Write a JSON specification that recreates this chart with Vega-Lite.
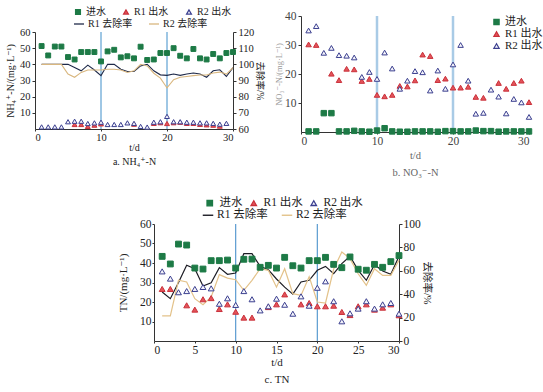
{
"$schema": "https://vega.github.io/schema/vega-lite/v6.json",
"padding": {"left": 5, "top": 7, "right": 0, "bottom": 0},
"background": "white",
"datasets": {
"a": [
{"d":1,"进水":51.3,"R2 出水":1.3,"R1 去除率":100,"R2 去除率":100},
{"d":2,"进水":45.5,"R2 出水":1.3,"R1 去除率":100,"R2 去除率":100},
{"d":3,"进水":51,"R2 出水":1.3,"R1 去除率":100,"R2 去除率":100},
{"d":4,"进水":51,"R2 出水":1.3,"R1 去除率":100,"R2 去除率":100},
{"d":5,"进水":44.5,"R2 出水":4.5,"R1 去除率":100,"R2 去除率":94},
{"d":6,"进水":43,"R1 出水":2.8,"R2 出水":4.8,"R1 去除率":98,"R2 去除率":92},
{"d":7,"进水":47.6,"R1 出水":2.8,"R2 出水":4.8,"R1 去除率":96,"R2 去除率":95},
{"d":8,"进水":47.6,"R1 出水":1.6,"R2 出水":3.4,"R1 去除率":99.5,"R2 去除率":96.5},
{"d":9,"进水":47.6,"R1 出水":2.4,"R2 出水":3.8,"R1 去除率":96.5,"R2 去除率":96.5},
{"d":10,"进水":41.8,"R1 出水":3.2,"R2 出水":4.2,"R1 去除率":93,"R2 去除率":96.5},
{"d":11,"进水":48,"R2 出水":2.8,"R1 去除率":100,"R2 去除率":97},
{"d":12,"进水":49,"R2 出水":2.8,"R1 去除率":100,"R2 去除率":97},
{"d":13,"进水":44.3,"R2 出水":2.8,"R1 去除率":97,"R2 去除率":96.5},
{"d":14,"进水":45,"R2 出水":3.8,"R1 去除率":95.6,"R2 去除率":95},
{"d":15,"进水":43.7,"R1 出水":3,"R2 出水":3.5,"R1 去除率":95.6,"R2 去除率":96},
{"d":16,"进水":50.9,"R2 出水":1.6,"R1 去除率":99,"R2 去除率":100},
{"d":17,"进水":42.7,"R2 出水":1.2,"R1 去除率":100,"R2 去除率":99},
{"d":18,"进水":43,"R1 出水":3.5,"R2 出水":4.2,"R1 去除率":96,"R2 去除率":94.5},
{"d":19,"进水":47,"R1 出水":3.9,"R2 出水":4.5,"R1 去除率":93.5,"R2 去除率":91.5},
{"d":20,"进水":47,"R1 出水":3.4,"R2 出水":7.8,"R1 去除率":93.2,"R2 去除率":85.4},
{"d":21,"进水":50,"R1 出水":3.9,"R2 出水":4.5,"R1 去除率":94,"R2 去除率":90.5},
{"d":22,"进水":45.3,"R1 出水":4.2,"R2 出水":4.5,"R1 去除率":93.2,"R2 去除率":92},
{"d":23,"进水":43.7,"R1 出水":3.5,"R2 出水":4.2,"R1 去除率":94,"R2 去除率":92.5},
{"d":24,"进水":49.5,"R1 出水":3.5,"R2 出水":4.2,"R1 去除率":94.6,"R2 去除率":93},
{"d":25,"进水":43.7,"R1 出水":2.9,"R2 出水":3.8,"R1 去除率":94,"R2 去除率":93.4},
{"d":26,"进水":43,"R1 出水":2.6,"R2 出水":3.8,"R1 去除率":92,"R2 去除率":93.4},
{"d":27,"进水":46.4,"R1 出水":2.4,"R2 出水":3.5,"R1 去除率":96,"R2 去除率":94.6},
{"d":28,"进水":43.7,"R1 出水":1.8,"R2 出水":3.0,"R1 去除率":96.6,"R2 去除率":95.2},
{"d":29,"进水":47,"R2 出水":3.5,"R1 去除率":92.5,"R2 去除率":94},
{"d":30,"进水":47.6,"R1 去除率":98,"R2 去除率":98}
],
"b": [
{"d":1,"进水":0.2,"R1 出水":30.2,"R2 出水":35.0},
{"d":2,"进水":0.2,"R1 出水":30.0,"R2 出水":36.5},
{"d":3,"进水":6.5,"R2 出水":27.3},
{"d":4,"进水":6.5,"R1 出水":20.1,"R2 出水":29.0},
{"d":5,"进水":0.2,"R1 出水":17.9,"R2 出水":26.5},
{"d":6,"进水":0.2,"R1 出水":21.8,"R2 出水":26.3},
{"d":7,"进水":0.4,"R1 出水":21.6,"R2 出水":25.7},
{"d":8,"进水":0.2,"R1 出水":17.6,"R2 出水":19.0},
{"d":9,"进水":0.1,"R1 出水":18.3,"R2 出水":20.7},
{"d":10,"进水":0.5,"R1 出水":12.8,"R2 出水":18.3},
{"d":11,"进水":1.3,"R1 出水":12.3,"R2 出水":27.4},
{"d":12,"进水":0.2,"R1 出水":12.8,"R2 出水":21.9},
{"d":13,"进水":0.1,"R1 出水":15.9,"R2 出水":14.9},
{"d":14,"进水":0.1,"R1 出水":15.7,"R2 出水":17.7},
{"d":15,"进水":0.2,"R1 出水":17.8,"R2 出水":21.0},
{"d":16,"进水":0.2,"R1 出水":26.7,"R2 出水":20.6},
{"d":17,"进水":0.2,"R1 出水":26.2,"R2 出水":14.3},
{"d":18,"进水":0.1,"R1 出水":17.9,"R2 出水":21.2},
{"d":19,"进水":0.3,"R1 出水":18.4,"R2 出水":14.9},
{"d":20,"进水":0.3,"R1 出水":15.3,"R2 出水":23.3},
{"d":21,"进水":0.2,"R1 出水":15.3,"R2 出水":30.0},
{"d":22,"进水":0.2,"R1 出水":15.6,"R2 出水":17.7},
{"d":23,"进水":0.5,"R1 出水":12.1,"R2 出水":6.3},
{"d":24,"进水":0.3,"R1 出水":11.8,"R2 出水":6.6},
{"d":25,"进水":0.3,"R2 出水":14.6},
{"d":26,"进水":0.1,"R1 出水":16.9,"R2 出水":12.2},
{"d":27,"进水":0.2,"R1 出水":14.9,"R2 出水":6.4},
{"d":28,"进水":0.2,"R1 出水":16.9,"R2 出水":11.4},
{"d":29,"进水":0.2,"R1 出水":17.7,"R2 出水":10.2},
{"d":30,"进水":0.2,"R1 出水":10.3,"R2 出水":5.2}
],
"c": [
{"d":1,"进水":43.4,"R1 出水":26.7,"R2 出水":35.7,"R1 去除率":41.9,"R2 去除率":21.4},
{"d":2,"进水":39.5,"R1 出水":26.7,"R2 出水":32.0,"R1 去除率":36.2,"R2 去除率":21.4},
{"d":3,"进水":49.7,"R2 出水":25.0,"R1 去除率":50,"R2 去除率":51.9},
{"d":4,"进水":49.2,"R1 出水":18.3,"R2 出水":25.6,"R1 去除率":64.7,"R2 去除率":50.4},
{"d":5,"进水":37.4,"R1 出水":16.1,"R2 出水":26.7,"R1 去除率":61.8,"R2 去除率":36.2},
{"d":6,"进水":36.9,"R1 出水":21.4,"R2 出水":27.7,"R1 去除率":47.0,"R2 去除率":31.1},
{"d":7,"进水":41.2,"R1 出水":22.0,"R2 出水":27.0,"R1 去除率":49.8,"R2 去除率":37.6},
{"d":8,"进水":41.2,"R1 出水":16.4,"R2 出水":19.1,"R1 去除率":62.7,"R2 去除率":56.7},
{"d":9,"进水":41.5,"R1 出水":18.8,"R2 出水":21.9,"R1 去除率":57.0,"R2 去除率":53.8},
{"d":10,"进水":37.4,"R1 出水":15.0,"R2 出水":18.5,"R1 去除率":58.1,"R2 去除率":52.4},
{"d":11,"进水":41.9,"R1 出水":12.0,"R2 出水":25.6,"R1 去除率":74.6,"R2 去除率":43.3},
{"d":12,"进水":42.0,"R1 出水":12.0,"R2 出水":21.4,"R1 去除率":74.6,"R2 去除率":51.9},
{"d":13,"进水":37.8,"R2 出水":15.7,"R1 去除率":63.8,"R2 去除率":61.8},
{"d":14,"进水":38.8,"R1 出水":17.4,"R2 出水":17.8,"R1 去除率":61.0,"R2 去除率":60.4},
{"d":15,"进水":37.4,"R1 出水":18.8,"R2 出水":21.7,"R1 去除率":53,"R2 去除率":46},
{"d":16,"进水":42.9,"R1 出水":23.9,"R2 出水":18.6,"R1 去除率":46,"R2 去除率":61.8},
{"d":17,"进水":38.6,"R2 出水":14.0,"R1 去除率":40,"R2 去除率":40.5},
{"d":18,"进水":37.4,"R1 出水":18.8,"R2 出水":22.9,"R1 去除率":50.4,"R2 去除率":39},
{"d":19,"进水":41.2,"R1 出水":19.5,"R2 出水":18.1,"R1 去除率":51.9,"R2 去除率":55},
{"d":20,"进水":41.2,"R1 出水":17.8,"R2 出水":27.3,"R1 去除率":60.4,"R2 去除率":33.3},
{"d":21,"进水":42.9,"R1 出水":17.8,"R2 出水":30.6,"R1 去除率":63.8,"R2 去除率":32.5},
{"d":22,"进水":39.3,"R1 出水":18.1,"R2 出水":20.4,"R1 去除率":57.5,"R2 去除率":61.5},
{"d":23,"进水":37.6,"R1 出水":14.9,"R2 出水":10.1,"R1 去除率":66.1,"R2 去除率":76.1},
{"d":24,"进水":43.1,"R1 出水":13.3,"R2 出水":14.2,"R1 去除率":72.4,"R2 去除率":70.4},
{"d":25,"进水":36.8,"R1 出水":17.8,"R2 出水":16.6,"R1 去除率":60.4,"R2 去除率":57.5},
{"d":26,"进水":36.3,"R1 出水":18.8,"R2 出水":20.4,"R1 去除率":51.9,"R2 去除率":47.6},
{"d":27,"进水":39.3,"R1 出水":16.1,"R2 出水":16.6,"R1 去除率":65.2,"R2 去除率":61.8},
{"d":28,"进水":37.8,"R1 出水":17.1,"R2 出水":18.8,"R1 去除率":59.8,"R2 去除率":56.1},
{"d":29,"进水":40.7,"R1 出水":18.8,"R2 出水":19.5,"R1 去除率":57.0,"R2 去除率":56.1},
{"d":30,"进水":43.8,"R1 出水":13.2,"R2 出水":14.0,"R1 去除率":72.4,"R2 去除率":69}
]
},
"vconcat": [
{"hconcat": [
{"vconcat": [
{"width": 1, "height": 1, "data": {"values": []}, "mark": "point"},
{
"width": 198, "height": 97,
"data": {"name": "a"},
"layer": [
{"data": {"values": [{"d":10},{"d":20}]}, "mark": {"type":"rule","color":"#3f8fca","strokeWidth":1}, "encoding": {"x": {"field":"d","type":"quantitative","scale":{"domain":[0,30],"nice":false}}}},
{"transform": [{"fold": ["进水","R1 出水","R2 出水"], "as": ["s","v"]}],
"mark": {"type":"point","opacity":1,"size":24,"strokeWidth":1},
"encoding": {
"x": {"field":"d","type":"quantitative","scale":{"domain":[0,30],"nice":false},"axis":{"values":[0,5,10,15,20,25,30],"title":["t/d","a. NH₄⁺-N"],"titleLineHeight":14,"tickSize":2,"labelPadding":1,"titlePadding":0,"labelFontSize":10.5,"titleFontSize":10}},
"y": {"field":"v","type":"quantitative","scale":{"domain":[0,60],"nice":false},"axis":{"values":[10,20,30,40,50,60],"title":"NH₄⁺-N/(mg·L⁻¹)","labelFontSize":10.5,"titleFontSize":10,"titlePadding":4}},
"fill": {"field":"s","type":"nominal","scale":{"domain":["进水","R1 出水","R2 出水"],"range":["#1d7a46","#e4545a","#f4f4fb"]},"legend":{"title":null,"orient":"none","legendX":38,"legendY":-25,"direction":"horizontal","columnPadding":15,"labelFontSize":10,"symbolSize":24,"symbolStrokeWidth":1.2,"labelOffset":3,"padding":0}},
"stroke": {"field":"s","type":"nominal","scale":{"domain":["进水","R1 出水","R2 出水"],"range":["#1d7a46","#c9303a","#3b3f8f"]},"legend":{"title":null,"orient":"none","legendX":38,"legendY":-25,"direction":"horizontal","columnPadding":15,"labelFontSize":10,"symbolSize":24,"symbolStrokeWidth":1.2,"labelOffset":3,"padding":0}},
"shape": {"field":"s","type":"nominal","scale":{"domain":["进水","R1 出水","R2 出水"],"range":["square","triangle-up","triangle-up"]},"legend":{"title":null,"orient":"none","legendX":38,"legendY":-25,"direction":"horizontal","columnPadding":15,"labelFontSize":10,"symbolSize":24,"symbolStrokeWidth":1.2,"labelOffset":3,"padding":0}}
}},
{"transform": [{"fold": ["R1 去除率","R2 去除率"], "as": ["s","v"]}],
"mark": {"type":"line","strokeWidth":1.1},
"encoding": {
"x": {"field":"d","type":"quantitative","scale":{"domain":[0,30],"nice":false}},
"y": {"field":"v","type":"quantitative","scale":{"domain":[60,120],"nice":false},"axis":{"orient":"right","values":[60,70,80,90,100,110,120],"title":"去除率/%","titleAngle":90,"labelFontSize":10.5,"titleFontSize":9.5,"titlePadding":1}},
"color": {"field":"s","type":"nominal","scale":{"domain":["R1 去除率","R2 去除率"],"range":["#1f2a4a","#d9b77f"]},"legend":{"title":null,"orient":"none","legendX":38,"legendY":-14,"direction":"horizontal","columnPadding":13,"labelFontSize":10,"symbolSize":100,"symbolStrokeWidth":1.3,"labelOffset":3,"padding":0}}
}}
],
"resolve": {"scale": {"y": "independent"}}
}
], "spacing": -10,
"resolve": {"scale": {"fill":"independent","stroke":"independent","shape":"independent","color":"independent"}, "legend": {"fill":"independent","stroke":"independent","shape":"independent","color":"independent"}}},
{
"width": 228, "height": 116,
"data": {"name": "b"},
"layer": [
{"data": {"values": [{"d":10},{"d":20}]}, "mark": {"type":"rule","color":"#a9cbe6","strokeWidth":2.5}, "encoding": {"x": {"field":"d","type":"quantitative","scale":{"domain":[0,30],"nice":false}}}},
{"transform": [{"fold": ["进水","R1 出水","R2 出水"], "as": ["s","v"]}],
"mark": {"type":"point","opacity":1,"size":30,"strokeWidth":1},
"encoding": {
"x": {"field":"d","type":"quantitative","scale":{"domain":[0,30],"nice":false},"axis":{"values":[0,5,10,15,20,25,30],"title":["t/d","b. NO₃⁻-N"],"titleLineHeight":17,"tickSize":2,"labelPadding":1,"titlePadding":4,"labelFontSize":11.5,"titleFontSize":10.5,"titleColor":"#666","labelColor":"#444"}},
"y": {"field":"v","type":"quantitative","scale":{"domain":[0,40],"nice":false},"axis":{"values":[10,20,30,40],"title":"NO₃⁻-N/(mg·L⁻¹)","labelFontSize":11.5,"titleFontSize":8.5,"titlePadding":1,"titleColor":"#9a9a9a","labelColor":"#444"}},
"fill": {"field":"s","type":"nominal","scale":{"domain":["进水","R1 出水","R2 出水"],"range":["#1d7a46","#e4545a","#f4f4fb"]},"legend":{"title":null,"orient":"none","legendX":190,"legendY":0.5,"direction":"vertical","rowPadding":0,"labelFontSize":11,"symbolSize":28,"symbolStrokeWidth":1.2,"labelOffset":3,"padding":0}},
"stroke": {"field":"s","type":"nominal","scale":{"domain":["进水","R1 出水","R2 出水"],"range":["#1d7a46","#c9303a","#3b3f8f"]},"legend":{"title":null,"orient":"none","legendX":190,"legendY":0.5,"direction":"vertical","rowPadding":0,"labelFontSize":11,"symbolSize":28,"symbolStrokeWidth":1.2,"labelOffset":3,"padding":0}},
"shape": {"field":"s","type":"nominal","scale":{"domain":["进水","R1 出水","R2 出水"],"range":["square","triangle-up","triangle-up"]},"legend":{"title":null,"orient":"none","legendX":190,"legendY":0.5,"direction":"vertical","rowPadding":0,"labelFontSize":11,"symbolSize":28,"symbolStrokeWidth":1.2,"labelOffset":3,"padding":0}}
}}
]
}
], "spacing": 9,
"resolve": {"scale": {"fill":"independent","stroke":"independent","shape":"independent","color":"independent"}, "legend": {"fill":"independent","stroke":"independent","shape":"independent","color":"independent"}}},
{"hconcat": [
{"width": 82, "height": 1, "data": {"values": []}, "mark": "point"},
{
"width": 245, "height": 117,
"data": {"name": "c"},
"layer": [
{"data": {"values": [{"d":10},{"d":20}]}, "mark": {"type":"rule","color":"#5a9bd0","strokeWidth":1.2}, "encoding": {"x": {"field":"d","type":"quantitative","scale":{"domain":[0,30],"nice":false}}}},
{"transform": [{"fold": ["R1 去除率","R2 去除率"], "as": ["s","v"]}],
"mark": {"type":"line","strokeWidth":1.2},
"encoding": {
"x": {"field":"d","type":"quantitative","scale":{"domain":[0,30],"nice":false}},
"y": {"field":"v","type":"quantitative","scale":{"domain":[0,100],"nice":false},"axis":{"orient":"right","values":[0,20,40,60,80,100],"title":"去除率/%","titleAngle":90,"labelFontSize":11.5,"titleFontSize":10.5,"titlePadding":1,"tickSize":3,"labelPadding":1}},
"color": {"field":"s","type":"nominal","scale":{"domain":["R1 去除率","R2 去除率"],"range":["#1c1c24","#e3c28a"]},"legend":{"title":null,"orient":"none","legendX":48,"legendY":-15,"direction":"horizontal","columnPadding":10,"labelFontSize":11.5,"symbolSize":110,"symbolStrokeWidth":1.4,"labelOffset":3,"padding":0}}
}},
{"transform": [{"fold": ["进水","R1 出水","R2 出水"], "as": ["s","v"]}],
"mark": {"type":"point","opacity":1,"size":34,"strokeWidth":1},
"encoding": {
"x": {"field":"d","type":"quantitative","scale":{"domain":[0,30],"nice":false},"axis":{"values":[0,5,10,15,20,25,30],"title":["t/d","c. TN"],"titleLineHeight":17,"tickSize":2,"labelPadding":1,"titlePadding":1,"labelFontSize":11.5,"titleFontSize":11}},
"y": {"field":"v","type":"quantitative","scale":{"domain":[0,60],"nice":false},"axis":{"values":[10,20,30,40,50,60],"title":"TN/(mg·L⁻¹)","labelFontSize":11.5,"titleFontSize":11,"titlePadding":11,"tickSize":2,"labelPadding":1}},
"fill": {"field":"s","type":"nominal","scale":{"domain":["进水","R1 出水","R2 出水"],"range":["#1d7a46","#e4545a","#f4f4fb"]},"legend":{"title":null,"orient":"none","legendX":50,"legendY":-27,"direction":"horizontal","columnPadding":5,"labelFontSize":11.5,"symbolSize":30,"symbolStrokeWidth":1.3,"labelOffset":4,"padding":0}},
"stroke": {"field":"s","type":"nominal","scale":{"domain":["进水","R1 出水","R2 出水"],"range":["#1d7a46","#c9303a","#3b3f8f"]},"legend":{"title":null,"orient":"none","legendX":50,"legendY":-27,"direction":"horizontal","columnPadding":5,"labelFontSize":11.5,"symbolSize":30,"symbolStrokeWidth":1.3,"labelOffset":4,"padding":0}},
"shape": {"field":"s","type":"nominal","scale":{"domain":["进水","R1 出水","R2 出水"],"range":["square","triangle-up","triangle-up"]},"legend":{"title":null,"orient":"none","legendX":50,"legendY":-27,"direction":"horizontal","columnPadding":5,"labelFontSize":11.5,"symbolSize":30,"symbolStrokeWidth":1.3,"labelOffset":4,"padding":0}}
}}
],
"resolve": {"scale": {"y": "independent"}}
}
], "spacing": 0,
"resolve": {"scale": {"fill":"independent","stroke":"independent","shape":"independent","color":"independent"}, "legend": {"fill":"independent","stroke":"independent","shape":"independent","color":"independent"}}}
],
"spacing": 19,
"resolve": {"scale": {"fill":"independent","stroke":"independent","shape":"independent","color":"independent"}, "legend": {"fill":"independent","stroke":"independent","shape":"independent","color":"independent"}},
"config": {
"font": "Liberation Serif, Noto Sans CJK SC, DejaVu Sans",
"view": {"stroke": null},
"axis": {"grid": false, "domainColor": "#333", "tickColor": "#333", "labelColor": "#222", "titleColor": "#222", "labelFont": "Liberation Serif, Noto Sans CJK SC, DejaVu Sans", "titleFont": "Liberation Serif, Noto Sans CJK SC, DejaVu Sans", "titleFontWeight": "normal", "tickSize": 3, "labelPadding": 2},
"legend": {"labelFont": "Liberation Serif, Noto Sans CJK SC, DejaVu Sans", "labelColor": "#222"},
"title": {"font": "Liberation Serif, Noto Sans CJK SC, DejaVu Sans", "fontWeight": "normal"}
}
}
